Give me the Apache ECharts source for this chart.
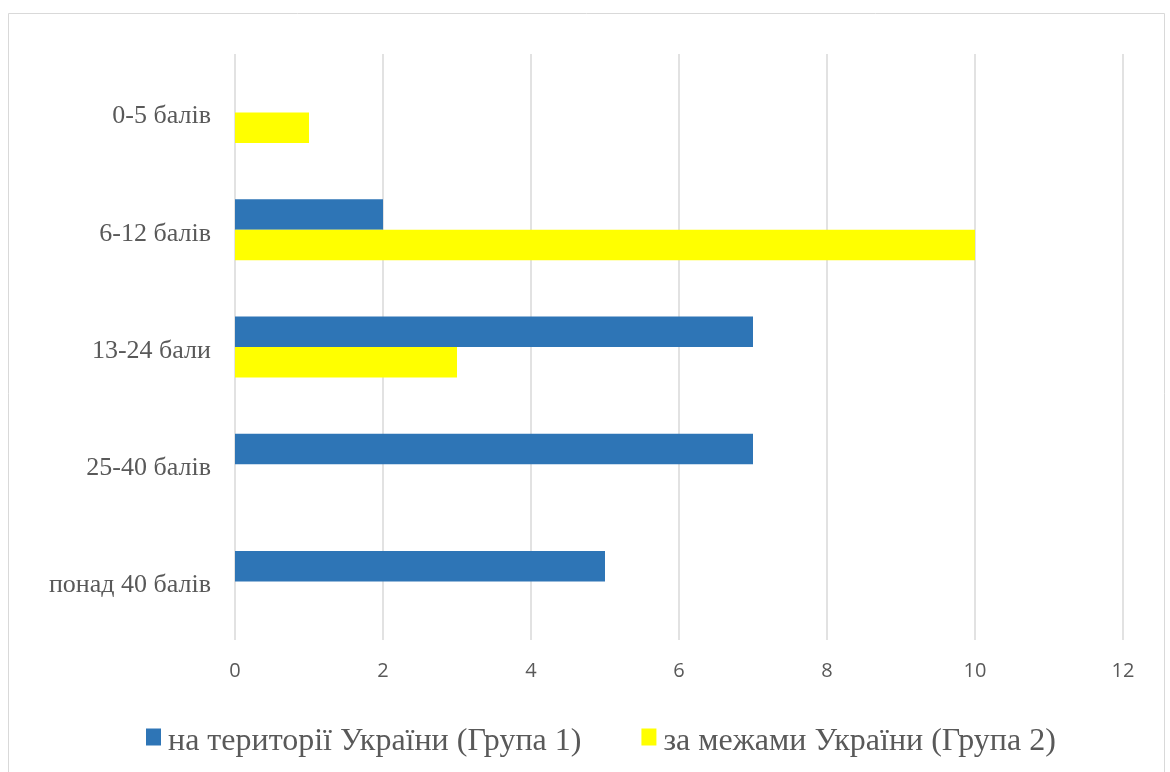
<!DOCTYPE html>
<html>
<head>
<meta charset="utf-8">
<script src="https://cdn.jsdelivr.net/npm/echarts@6/dist/echarts.min.js"></script>
<style>
  html, body { margin: 0; padding: 0; background: #ffffff; }
  #chart { width: 1170px; height: 772px; }
</style>
</head>
<body>
<div id="chart"></div>
<script>
// Score bands (top to bottom)
const categories = ['0-5 балів', '6-12 балів', '13-24 бали', '25-40 балів', 'понад 40 балів'];
// Respondents per band
const seriesNames = ['на території України (Група 1)', 'за межами України (Група 2)'];
const group1 = [0, 2, 7, 7, 5];
const group2 = [1, 10, 3, 0, 0];
const xTicks = [0, 2, 4, 6, 8, 10, 12];

const chart = echarts.init(document.getElementById('chart'), null, { renderer: 'canvas' });

const serif = '"Liberation Serif", "DejaVu Serif", serif';
const sans = '"Open Sans", "Liberation Sans", sans-serif';
const textColor = '#595959';
const gridColor = '#d9d9d9';

chart.setOption({
  backgroundColor: '#ffffff',
  animation: false,
  graphic: [{
    type: 'rect',
    shape: { x: 8.5, y: 13.5, width: 1156, height: 770 },
    style: { fill: 'none', stroke: '#d9d9d9', lineWidth: 1 },
    silent: true,
    z: -1
  }],
  grid: { left: 235, right: 47, top: 54, bottom: 132, containLabel: false },
  legend: {
    left: 141,
    top: 721,
    itemWidth: 15,
    itemHeight: 17,
    itemGap: 60,
    icon: 'rect',
    formatter: name => '{t|' + name + '}',
    textStyle: {
      fontFamily: serif, fontSize: 32, color: textColor,
      rich: { t: { fontFamily: serif, fontSize: 32, color: textColor, padding: [10, 0, 0, 2] } }
    },
    data: seriesNames
  },
  xAxis: {
    type: 'value',
    min: xTicks[0],
    max: xTicks[xTicks.length - 1],
    interval: 2,
    axisLine: { show: false },
    axisTick: { show: false },
    axisLabel: { fontFamily: sans, fontSize: 20, color: textColor, margin: 21 },
    splitLine: { show: true, lineStyle: { color: gridColor, width: 1.5 } }
  },
  yAxis: {
    type: 'category',
    inverse: true,
    data: categories,
    axisLine: { show: false },
    axisTick: { show: false },
    axisLabel: {
      fontFamily: serif, fontSize: 26, color: textColor, margin: 24,
      formatter: v => '{c|' + v + '}',
      rich: { c: { fontFamily: serif, fontSize: 26, color: textColor, padding: [8, 0, 0, 0] } }
    },
    splitLine: { show: false }
  },
  series: [
    {
      name: seriesNames[0],
      type: 'bar',
      data: group1,
      barGap: '0%',
      barCategoryGap: '48%',
      itemStyle: { color: '#2E75B6' }
    },
    {
      name: seriesNames[1],
      type: 'bar',
      data: group2,
      barGap: '0%',
      barCategoryGap: '48%',
      itemStyle: { color: '#FFFF00' }
    }
  ]
});
</script>
</body>
</html>
